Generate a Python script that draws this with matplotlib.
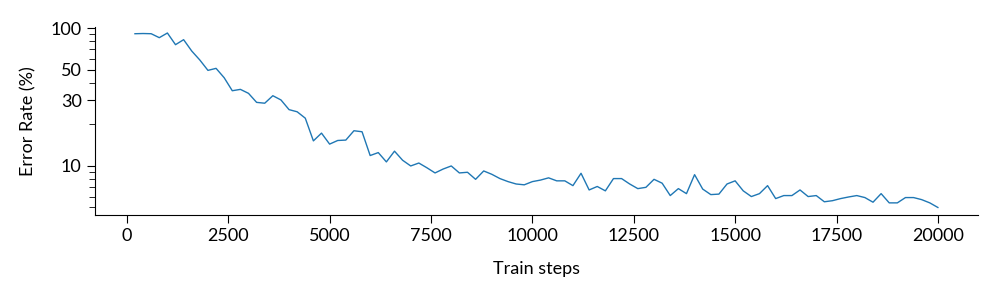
import numpy as np
import matplotlib
matplotlib.use('Agg')
from matplotlib import pyplot as plt
from matplotlib.ticker import LogLocator, NullFormatter

plt.rcParams['font.family'] = ['Lato', 'DejaVu Sans']

# train steps and error rate (%)
steps = list(range(200, 20001, 200))
error = [90.9, 91.2, 90.9, 85.1, 92.0, 75.7, 82.3, 68.1, 58.6, 49.3,
         51.0, 43.6, 35.1, 35.9, 33.6, 28.9, 28.5, 32.3, 30.1, 25.6,
         24.7, 22.2, 15.2, 17.3, 14.4, 15.3, 15.4, 18.0, 17.7, 11.9,
         12.5, 10.7, 12.8, 11.0, 10.0, 10.5, 9.7, 8.9, 9.5, 10.0,
         8.9, 9.0, 8.0, 9.2, 8.7, 8.1, 7.7, 7.4, 7.3, 7.7,
         7.9, 8.2, 7.8, 7.8, 7.2, 8.85, 6.7, 7.1, 6.6, 8.1,
         8.1, 7.4, 6.85, 7.0, 8.0, 7.5, 6.1, 6.85, 6.3, 8.65,
         6.8, 6.2, 6.25, 7.4, 7.8, 6.6, 6.0, 6.3, 7.2, 5.8,
         6.1, 6.1, 6.7, 6.0, 6.1, 5.5, 5.6, 5.8, 5.96, 6.1,
         5.9, 5.46, 6.3, 5.4, 5.4, 5.9, 5.9, 5.7, 5.4, 5.0]
yticks = [10, 30, 50, 100]
xticks = [0, 2500, 5000, 7500, 10000, 12500, 15000, 17500, 20000]

fig = plt.figure(figsize=(9.98, 2.98), dpi=100)
ax = fig.add_axes([0.095, 0.2785, 0.885, 0.6315])
ax.plot(steps, error, color='#1f77b4', lw=1)

ax.set_yscale('log')
ax.set_ylim(4.41, 102)
ax.yaxis.set_minor_locator(LogLocator(base=10, subs=np.arange(2, 10)))
ax.yaxis.set_minor_formatter(NullFormatter())
ax.set_yticks(yticks)
ax.set_yticklabels([str(t) for t in yticks])
ax.set_xticks(xticks)
ax.tick_params(axis='both', which='major', labelsize=13, length=6)
ax.tick_params(axis='both', which='minor', length=4)

ax.spines['top'].set_visible(False)
ax.spines['right'].set_visible(False)
ax.set_xlabel('Train steps', fontsize=13, labelpad=12)
ax.set_ylabel('Error Rate (%)', fontsize=13, labelpad=10)

fig.savefig('out.png', dpi=100)
